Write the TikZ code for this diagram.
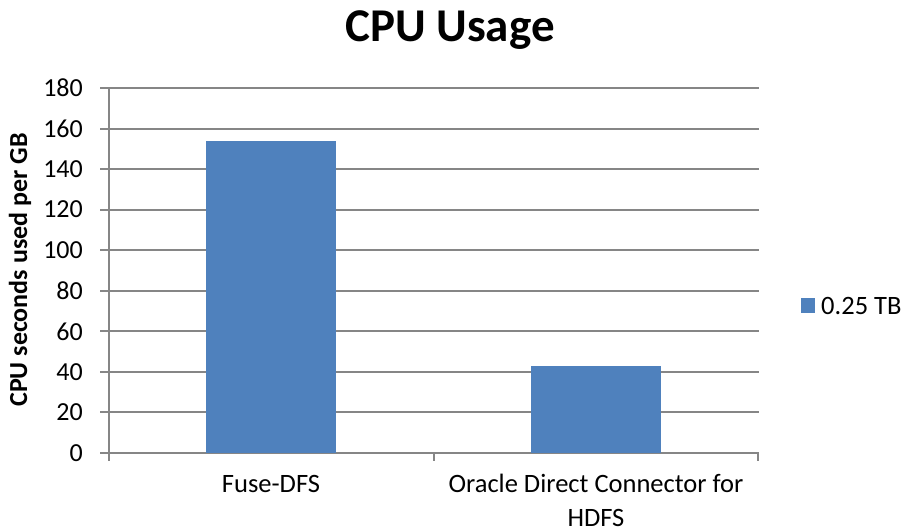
\documentclass[tikz,border=0pt]{standalone}
\usepackage{fontspec}
\setmainfont{Carlito}
\definecolor{barblue}{HTML}{4F81BD}
\definecolor{gridgray}{HTML}{868686}
\begin{document}
\begin{tikzpicture}[x=1pt,y=-1pt,
  grid/.style={draw=gridgray,line width=2pt},
  bar/.style={fill=barblue,draw=none},
  ticklab/.style={anchor=east,inner sep=0pt,font=\fontsize{26}{30}\selectfont},
  catlab/.style={anchor=base,inner sep=0pt,align=center,font=\fontsize{26.5}{34}\selectfont}]
\useasboundingbox[fill=white] (0,0) rectangle (903,531);
% title
\node[font=\bfseries\fontsize{47}{52}\selectfont,inner sep=0pt] (title) at (450,30) {CPU Usage};
% gridlines and ticks
\foreach \v [count=\i from 0] in {0,20,...,180} {
  \pgfmathsetmacro{\yy}{453-\i*40.56}
  \draw[grid] (100,\yy) -- (759,\yy);
  \node[ticklab] (t\i) at (83,\yy) {\v};
}
% axes
\draw[grid] (109,88) -- (109,453);
\foreach \xx in {109,433.5,758} \draw[grid] (\xx,453) -- (\xx,461);
% bars
\fill[bar] (206,140.7) rectangle (336,453);
\fill[bar] (531,365.8) rectangle (661,453);
% category labels
\node[catlab] (c1) at (271,492) {Fuse-DFS};
\node[catlab] (c2) at (596,526) {Oracle Direct Connector for\\HDFS};
% y-axis title
\node[rotate=90,font=\bfseries\fontsize{26}{30}\selectfont,inner sep=0pt] (ytitle) at (20,270) {CPU seconds used per GB};
% legend
\fill[bar] (801,298) rectangle (815,313);
\node[anchor=west,inner sep=0pt,font=\fontsize{26.5}{30}\selectfont] (leg) at (821,305.5) {0.25 TB};
\end{tikzpicture}
\end{document}
